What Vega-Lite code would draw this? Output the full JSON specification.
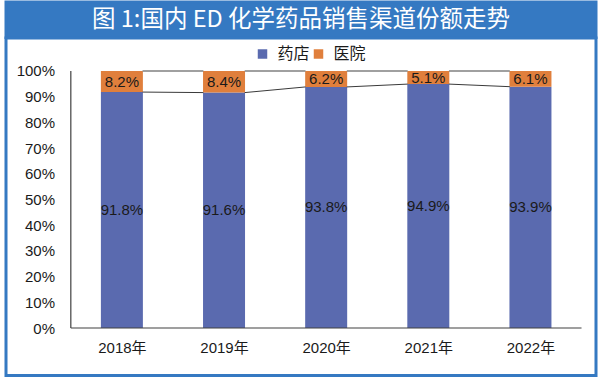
{
  "$schema": "https://vega.github.io/schema/vega-lite/v6.json",
  "background": "white",
  "padding": {"left": 4, "top": 0, "right": 3, "bottom": 5},
  "spacing": 0,
  "bounds": "flush",
  "config": {"view": {"stroke": null}},
  "vconcat": [
    {
      "width": 590,
      "height": 35.5,
      "view": {"fill": "#3579c2", "stroke": "#3579c2", "strokeWidth": 3},
      "data": {"values": [{}]},
      "mark": {"type": "text", "text": "图 1:国内 ED 化学药品销售渠道份额走势", "font": "Noto Sans CJK SC", "fontSize": 23.5, "color": "white", "baseline": "middle", "align": "center"}
    },
    {
      "width": 590,
      "height": 337.5,
      "view": {"fill": "white", "stroke": "#3579c2", "strokeWidth": 3},
      "data": {"values": [
        {"year": 2018, "channel": "药店", "share": 0.918},
        {"year": 2018, "channel": "医院", "share": 0.082},
        {"year": 2019, "channel": "药店", "share": 0.916},
        {"year": 2019, "channel": "医院", "share": 0.084},
        {"year": 2020, "channel": "药店", "share": 0.938},
        {"year": 2020, "channel": "医院", "share": 0.062},
        {"year": 2021, "channel": "药店", "share": 0.949},
        {"year": 2021, "channel": "医院", "share": 0.051},
        {"year": 2022, "channel": "药店", "share": 0.939},
        {"year": 2022, "channel": "医院", "share": 0.061}
      ]},
      "layer": [
        {
          "transform": [
            {"stack": "share", "groupby": ["year"], "sort": [{"field": "channel", "order": "descending"}], "as": ["y0", "y1"]}
          ],
          "mark": {"type": "bar", "size": 42},
          "encoding": {
            "x": {"field": "year", "type": "quantitative", "title": null, "scale": {"domain": [2016.9143, 2022.5928], "nice": false, "zero": false},
              "axis": {"orient": "bottom", "offset": -47.5, "values": [2018, 2019, 2020, 2021, 2022], "labelExpr": "datum.value + '年'", "ticks": false, "domain": false, "grid": false, "labelPadding": 12, "labelFont": "Liberation Sans, Noto Sans CJK SC", "labelFontSize": 15, "labelColor": "#1a1a1a", "labelFlush": false, "labelOverlap": false, "title": null}},
            "y": {"field": "y0", "type": "quantitative", "title": null, "scale": {"domain": [-0.1848, 1.1284], "nice": false, "zero": false},
              "axis": {"orient": "left", "offset": -61.5, "values": [0, 0.1, 0.2, 0.3, 0.4, 0.5, 0.6, 0.7, 0.8, 0.9, 1], "format": ".0%", "ticks": false, "domain": false, "grid": false, "labelPadding": 13, "labelFont": "Liberation Sans", "labelFontSize": 15, "labelColor": "#1a1a1a", "labelFlush": false, "labelOverlap": false, "title": null}},
            "y2": {"field": "y1"},
            "color": {"field": "channel", "type": "nominal", "scale": {"domain": ["药店", "医院"], "range": ["#5a6aaf", "#e07f3c"]},
              "legend": {"orient": "none", "legendX": 248.5, "legendY": 44, "direction": "horizontal", "title": null, "symbolType": "square", "symbolSize": 90, "symbolStrokeWidth": 0, "labelFont": "Noto Sans CJK SC", "labelFontSize": 16, "labelColor": "#1a1a1a", "columnPadding": 0, "labelOffset": 7, "padding": 0}}
          }
        },
        {
          "transform": [
            {"stack": "share", "groupby": ["year"], "sort": [{"field": "channel", "order": "descending"}], "as": ["y0", "y1"]},
            {"calculate": "(datum.y0 + datum.y1) / 2", "as": "mid"}
          ],
          "mark": {"type": "text", "font": "Liberation Sans", "fontSize": 15, "color": "#1a1a1a", "baseline": "middle", "align": "center"},
          "encoding": {
            "x": {"field": "year", "type": "quantitative", "title": null,
              "axis": {"orient": "bottom", "offset": -47.5, "values": [2018, 2019, 2020, 2021, 2022], "labelExpr": "datum.value + '年'", "ticks": false, "domain": false, "grid": false, "labelPadding": 12, "labelFont": "Liberation Sans, Noto Sans CJK SC", "labelFontSize": 15, "labelColor": "#1a1a1a", "labelFlush": false, "labelOverlap": false, "title": null}},
            "y": {"field": "mid", "type": "quantitative", "title": null,
              "axis": {"orient": "left", "offset": -61.5, "values": [0, 0.1, 0.2, 0.3, 0.4, 0.5, 0.6, 0.7, 0.8, 0.9, 1], "format": ".0%", "ticks": false, "domain": false, "grid": false, "labelPadding": 13, "labelFont": "Liberation Sans", "labelFontSize": 15, "labelColor": "#1a1a1a", "labelFlush": false, "labelOverlap": false, "title": null}},
            "text": {"field": "share", "type": "quantitative", "format": ".1%"}
          }
        },
        {
          "transform": [
            {"filter": "datum.channel == '药店'"},
            {"window": [{"op": "lead", "field": "share", "as": "nextShare"}, {"op": "lead", "field": "year", "as": "nextYear"}], "sort": [{"field": "year"}]},
            {"filter": "datum.nextYear != null"},
            {"calculate": "datum.year + 0.202", "as": "xs"},
            {"calculate": "datum.nextYear - 0.202", "as": "xe"}
          ],
          "layer": [
            {
              "mark": {"type": "rule", "color": "#3a3a3a", "strokeWidth": 1},
              "encoding": {
                "x": {"field": "xs", "type": "quantitative", "title": null,
                  "axis": {"orient": "bottom", "offset": -47.5, "values": [2018, 2019, 2020, 2021, 2022], "labelExpr": "datum.value + '年'", "ticks": false, "domain": false, "grid": false, "labelPadding": 12, "labelFont": "Liberation Sans, Noto Sans CJK SC", "labelFontSize": 15, "labelColor": "#1a1a1a", "labelFlush": false, "labelOverlap": false, "title": null}},
                "x2": {"field": "xe"},
                "y": {"field": "share", "type": "quantitative", "title": null,
                  "axis": {"orient": "left", "offset": -61.5, "values": [0, 0.1, 0.2, 0.3, 0.4, 0.5, 0.6, 0.7, 0.8, 0.9, 1], "format": ".0%", "ticks": false, "domain": false, "grid": false, "labelPadding": 13, "labelFont": "Liberation Sans", "labelFontSize": 15, "labelColor": "#1a1a1a", "labelFlush": false, "labelOverlap": false, "title": null}},
                "y2": {"field": "nextShare"}
              }
            },
            {
              "mark": {"type": "rule", "color": "#808080", "strokeWidth": 1.6},
              "encoding": {
                "x": {"field": "xs", "type": "quantitative", "title": null,
                  "axis": {"orient": "bottom", "offset": -47.5, "values": [2018, 2019, 2020, 2021, 2022], "labelExpr": "datum.value + '年'", "ticks": false, "domain": false, "grid": false, "labelPadding": 12, "labelFont": "Liberation Sans, Noto Sans CJK SC", "labelFontSize": 15, "labelColor": "#1a1a1a", "labelFlush": false, "labelOverlap": false, "title": null}},
                "x2": {"field": "xe"},
                "y": {"datum": 1, "type": "quantitative", "title": null,
                  "axis": {"orient": "left", "offset": -61.5, "values": [0, 0.1, 0.2, 0.3, 0.4, 0.5, 0.6, 0.7, 0.8, 0.9, 1], "format": ".0%", "ticks": false, "domain": false, "grid": false, "labelPadding": 13, "labelFont": "Liberation Sans", "labelFontSize": 15, "labelColor": "#1a1a1a", "labelFlush": false, "labelOverlap": false, "title": null}}
              }
            }
          ]
        },
        {
          "data": {"values": [{}]},
          "mark": {"type": "rule", "color": "#404040", "strokeWidth": 1.2},
          "encoding": {
            "x": {"datum": 2017.5, "type": "quantitative", "title": null,
              "axis": {"orient": "bottom", "offset": -47.5, "values": [2018, 2019, 2020, 2021, 2022], "labelExpr": "datum.value + '年'", "ticks": false, "domain": false, "grid": false, "labelPadding": 12, "labelFont": "Liberation Sans, Noto Sans CJK SC", "labelFontSize": 15, "labelColor": "#1a1a1a", "labelFlush": false, "labelOverlap": false, "title": null}},
            "y": {"datum": 0, "type": "quantitative", "title": null,
              "axis": {"orient": "left", "offset": -61.5, "values": [0, 0.1, 0.2, 0.3, 0.4, 0.5, 0.6, 0.7, 0.8, 0.9, 1], "format": ".0%", "ticks": false, "domain": false, "grid": false, "labelPadding": 13, "labelFont": "Liberation Sans", "labelFontSize": 15, "labelColor": "#1a1a1a", "labelFlush": false, "labelOverlap": false, "title": null}},
            "y2": {"datum": 1}
          }
        },
        {
          "data": {"values": [{}]},
          "mark": {"type": "rule", "color": "#404040", "strokeWidth": 1.2},
          "encoding": {
            "x": {"datum": 2017.5, "type": "quantitative", "title": null,
              "axis": {"orient": "bottom", "offset": -47.5, "values": [2018, 2019, 2020, 2021, 2022], "labelExpr": "datum.value + '年'", "ticks": false, "domain": false, "grid": false, "labelPadding": 12, "labelFont": "Liberation Sans, Noto Sans CJK SC", "labelFontSize": 15, "labelColor": "#1a1a1a", "labelFlush": false, "labelOverlap": false, "title": null}},
            "x2": {"datum": 2022.5},
            "y": {"datum": 0, "type": "quantitative", "title": null,
              "axis": {"orient": "left", "offset": -61.5, "values": [0, 0.1, 0.2, 0.3, 0.4, 0.5, 0.6, 0.7, 0.8, 0.9, 1], "format": ".0%", "ticks": false, "domain": false, "grid": false, "labelPadding": 13, "labelFont": "Liberation Sans", "labelFontSize": 15, "labelColor": "#1a1a1a", "labelFlush": false, "labelOverlap": false, "title": null}}
          }
        }
      ]
    }
  ]
}
